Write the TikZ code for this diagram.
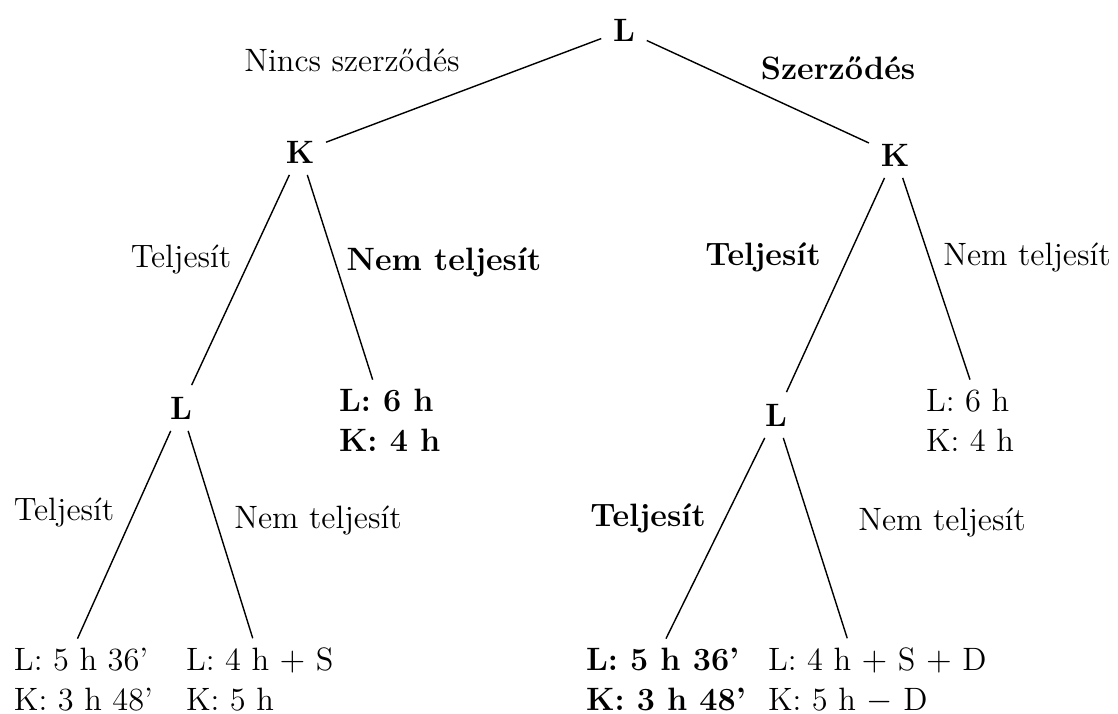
\documentclass[tikz,border=0pt]{standalone}
\usepackage{tikz}
\usetikzlibrary{positioning,calc}
\tikzset{
  % Decision node: bold player letter
  player/.style={font=\fontsize{11.5}{14}\selectfont\bfseries, inner sep=4pt},
  % Move labels beside the branches (placed on their baseline)
  move/.style={font=\fontsize{11.5}{14}\selectfont, anchor=base, inner sep=1pt},
  move-bold/.style={move, font=\fontsize{11.5}{14}\selectfont\bfseries},
  % Payoff pairs at the leaves (anchored on the baseline of the last line)
  payoff/.style={font=\fontsize{11.5}{14.2}\selectfont, align=left, anchor=base west, inner sep=3pt},
  payoff-bold/.style={payoff, font=\fontsize{11.5}{14.2}\selectfont\bfseries},
  % Branches
  branch/.style={line width=0.5pt}
}
\begin{document}
\begin{tikzpicture}[x=0.0125cm, y=-0.0125cm]
\useasboundingbox (0,0) rectangle (1118,713);

% ============== ROOT AND FIRST MOVE ==============
\node[player] (root) at (624,30) {L};
\node[player] (kleft) at (300,152) {K};
\node[player] (kright) at (895,155) {K};
\draw[branch] (root) -- (kleft);
\draw[branch] (root) -- (kright);
\node[move] (nincs) at (352,71) {Nincs szerződés};
\node[move-bold] (szerz) at (838,79) {Szerződés};

% ============== LEFT SUBTREE (no contract) ==============
\node[player] (lleft) at (181,408) {L};
\node[payoff-bold] (pleft) at (330,451) {L: 6 h\\K: 4 h};
\draw[branch] (kleft) -- (lleft);
\draw[branch] (kleft) -- ($(pleft.north)+(-17,0)$);
\node[move] (tl1) at (181,267) {Teljesít};
\node[move-bold] (ntl1) at (444,270) {Nem teljesít};

\node[payoff] (leafa) at (5,710) {L: 5 h 36'\\K: 3 h 48'};
\node[payoff] (leafb) at (177,710) {L: 4 h $+$ S\\K: 5 h};
\draw[branch] (lleft) -- ($(leafa.north)+(-6,0)$);
\draw[branch] (lleft) -- ($(leafb.north)+(-7,0)$);
\node[move] (tl2) at (64,520) {Teljesít};
\node[move] (ntl2) at (318,528) {Nem teljesít};

% ============== RIGHT SUBTREE (contract) ==============
\node[player] (lright) at (776,415) {L};
\node[payoff] (pright) at (917,451) {L: 6 h\\K: 4 h};
\draw[branch] (kright) -- (lright);
\draw[branch] (kright) -- (pright.north);
\node[move-bold] (tr1) at (763,265) {Teljesít};
\node[move] (ntr1) at (1027,265) {Nem teljesít};

\node[payoff-bold] (leafc) at (577,710) {L: 5 h 36'\\K: 3 h 48'};
\node[payoff] (leafd) at (759,710) {L: 4 h $+$ S $+$ D\\K: 5 h $-$ D};
\draw[branch] (lright) -- (leafc.north);
\draw[branch] (lright) -- ($(leafd.north)+(-30,0)$);
\node[move-bold] (tr2) at (648,526) {Teljesít};
\node[move] (ntr2) at (942,530) {Nem teljesít};

\end{tikzpicture}
\end{document}
